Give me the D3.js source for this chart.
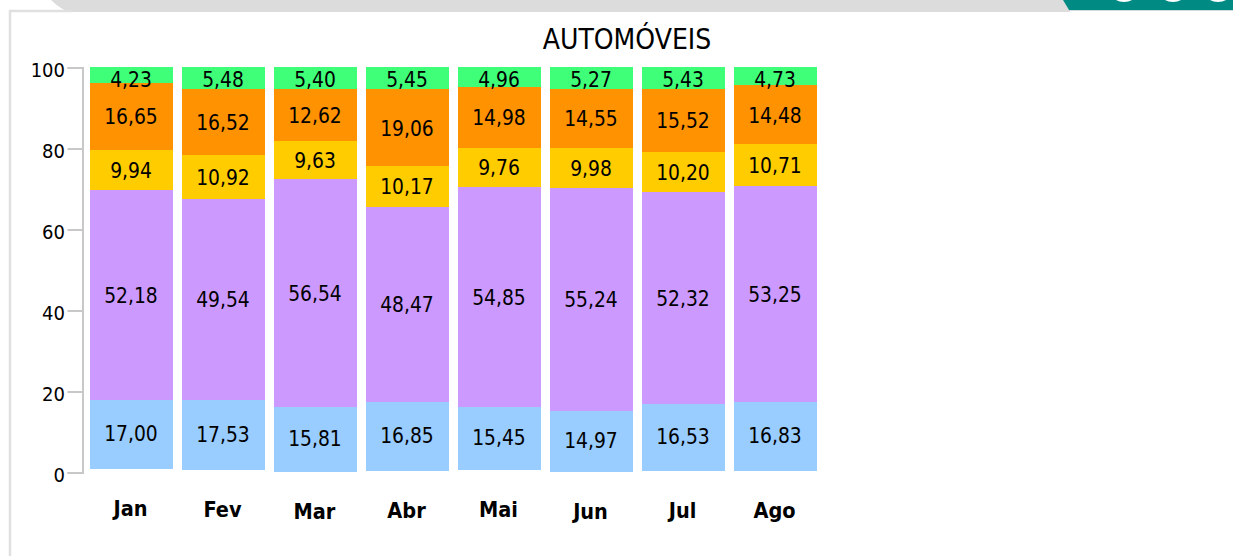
<!DOCTYPE html>
<html><head><meta charset="utf-8">
<style>html,body{margin:0;padding:0;background:#fff;overflow:hidden}svg{display:block}</style>
<script src="https://cdn.jsdelivr.net/npm/d3@7/dist/d3.min.js"></script></head>
<body><svg id="c" width="1233" height="556"></svg>
<script>
const months=["Jan","Fev","Mar","Abr","Mai","Jun","Jul","Ago"];
const seriesColors=["#99ccff","#cc99ff","#ffcc00","#ff9200","#3fff79"];
const lblBlue=["17,00","17,53","15,81","16,85","15,45","14,97","16,53","16,83"];
const lblPurple=["52,18","49,54","56,54","48,47","54,85","55,24","52,32","53,25"];
const lblYellow=["9,94","10,92","9,63","10,17","9,76","9,98","10,20","10,71"];
const lblOrange=["16,65","16,52","12,62","19,06","14,98","14,55","15,52","14,48"];
const lblGreen=["4,23","5,48","5,40","5,45","4,96","5,27","5,43","4,73"];
// Band edges, in axis units
const edgeBottom=[0.99,0.74,0.32,0.49,0.74,0.32,0.49,0.49];
const edgeBlue=[18.10,18.10,16.30,17.53,16.30,15.31,17.04,17.53];
const edgePurple=[69.95,67.65,72.59,65.68,70.62,70.37,69.38,70.86];
const edgeYellow=[79.83,78.52,81.98,75.80,80.25,80.25,79.26,81.23];
const edgeOrange=[96.30,94.81,94.81,94.81,95.31,94.81,94.81,95.80];
const edgeTop=[100.25,100.25,100.25,100.25,100.25,100.25,100.25,100.25];
const yTicks=[0,20,40,60,80,100];
const layers=[lblBlue,lblPurple,lblYellow,lblOrange,lblGreen];
const edges=[edgeBottom,edgeBlue,edgePurple,edgeYellow,edgeOrange,edgeTop];
const font="'DejaVu Sans Condensed','DejaVu Sans'";
const svg=d3.select("#c");
svg.append("path").attr("d","M51,0 Q62,11 72,12 L1070,12 L1064,0Z").attr("fill","#dcdcdc");
svg.append("path").attr("d","M1063,0 L1069,10 L1233,10 L1233,0Z").attr("fill","#008a84");
svg.append("rect").attr("x",1069).attr("y",10).attr("width",164).attr("height",1).attr("fill","#cfdcdc");
[1124,1173,1218].forEach(cx=>svg.append("ellipse").attr("cx",cx).attr("cy",-9).attr("rx",14).attr("ry",11).attr("fill","#fff"));
svg.append("path").attr("d","M10,556 V11 H72").attr("fill","none").attr("stroke","#e0e0e0").attr("stroke-width",2.5);
const y=d3.scaleLinear().domain([0,100]).range([473,68]);
const x=d3.scaleBand().domain(months).range([90,817]).paddingInner(9/92).paddingOuter(0);
const ax=svg.append("g").attr("transform","translate(82.5,-0.5)").call(d3.axisLeft(y).tickValues(yTicks).tickSize(15).tickPadding(2.5));
ax.selectAll("path,line").attr("stroke","#c8c8c8").attr("stroke-width",2);
ax.select(".domain").attr("d","M-15,473.5 H0.5 V68.5 H-15");
ax.selectAll("text").attr("font-family",font).attr("font-size",20).attr("fill","#000").attr("dy","0.46em");
months.forEach((m,i)=>{
  layers.forEach((l,k)=>{
    const t=y(edges[k+1][i]),b=y(edges[k][i]);
    svg.append("rect").attr("x",x(m)).attr("width",x.bandwidth()).attr("y",t).attr("height",b-t).attr("fill",seriesColors[k]).attr("shape-rendering","crispEdges");
  });
  layers.forEach((l,k)=>{
    const t=y(edges[k+1][i]),b=y(edges[k][i]);
    svg.append("text").attr("x",x(m)+x.bandwidth()/2-0.5).attr("y",Math.max((t+b)/2+(k===0?-0.5:0.5),80)).attr("dy","0.36em").attr("text-anchor","middle").attr("font-family",font).attr("font-size",20.8).text(l[i]);
  });
  svg.append("text").attr("x",x(m)+x.bandwidth()/2-1).attr("y",y(edgeBottom[i])+39.5).attr("dy","0.36em").attr("text-anchor","middle").attr("font-family",font).attr("font-weight","bold").attr("font-size",21.5).text(m);
});
svg.append("text").attr("x",627).attr("y",38.5).attr("dy","0.36em").attr("text-anchor","middle").attr("font-family",font).attr("font-size",28).text("AUTOMÓVEIS");
</script></body></html>
